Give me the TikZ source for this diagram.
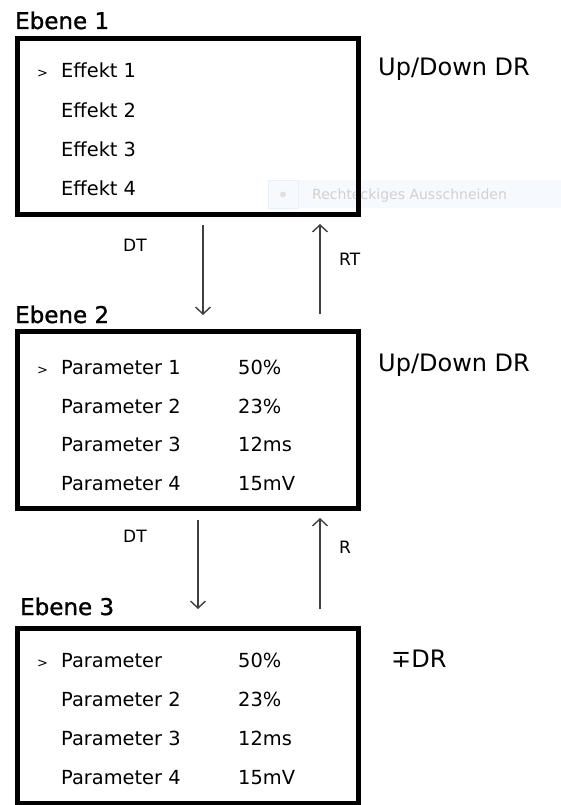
\documentclass[tikz,border=0pt]{standalone}
\usepackage{fontspec}
\setmainfont{DejaVu Sans}
\newfontfamily\titlefont[FakeBold=1.2]{DejaVu Sans}
\usetikzlibrary{arrows.meta}
\definecolor{clipfill}{RGB}{246,249,253}
\definecolor{clipline}{RGB}{232,240,250}
\newcommand{\menubox}[3]{%
\node[menuframe,minimum height=#3] (#1) at (188,#2) {};
}
\newcommand{\menuitem}[4]{%
\node[itemtext] (#1) at (#2,#3) {#4};
}
\newcommand{\cursor}[2]{%
\node[cursortext] (#1) at (37,#2) {>};
}

\begin{document}
\begin{tikzpicture}[x=1pt,y=-1pt]
\useasboundingbox (0,0) rectangle (561,805);

\tikzstyle{menuframe}=[draw,line width=5pt,minimum width=341pt,inner sep=0pt]
\tikzstyle{itemtext}=[anchor=base west,inner sep=0pt,font=\fontsize{19.4}{23}\selectfont]
\tikzstyle{cursortext}=[anchor=base west,inner sep=0pt,font=\fontsize{13}{15}\selectfont]
\tikzstyle{titletext}=[anchor=base west,inner sep=0pt,font=\titlefont\fontsize{23}{27}\selectfont]
\tikzstyle{sidetext}=[anchor=base west,inner sep=0pt,font=\fontsize{24}{28}\selectfont]
\tikzstyle{keytext}=[anchor=base west,inner sep=0pt,font=\fontsize{17}{20}\selectfont]
\tikzstyle{flow}=[draw=black!75,line width=1.4pt,-{Straight Barb[length=7pt,width=15pt,line width=1.4pt]}]

% overlay (screenshot)
\fill[clipfill] (268,180) rectangle (561,208);
\draw[clipline] (268,180) rectangle (298,208);
\fill[black!12] (283,194.5) circle (3);
\node[anchor=base west,inner sep=0pt,text=black!18,font=\fontsize{14}{16}\selectfont] (clip) at (312,200) {Rechteckiges Ausschneiden};

\begin{scope}[shift={(0,38.5)}]
% ebene 1
\node[titletext] (t1) at (15,-9.5) {Ebene 1};
\menubox{box1}{88}{176}

\cursor{c1}{39.5}
\menuitem{e11}{61}{39.5}{Effekt 1}
\menuitem{e12}{61}{79}{Effekt 2}
\menuitem{e13}{61}{118}{Effekt 3}
\menuitem{e14}{61}{157}{Effekt 4}

\node[sidetext] (s1) at (378,37.5) {Up/Down DR};
\end{scope}

\begin{scope}[shift={(0,331.5)}]
% ebene 2
\node[titletext] (t2) at (15,-8.5) {Ebene 2};
\menubox{box2}{88.5}{177}

\cursor{c2}{42.5}
\menuitem{p21}{61}{42.5}{Parameter 1}
\menuitem{p22}{61}{81.5}{Parameter 2}
\menuitem{p23}{61}{119.5}{Parameter 3}
\menuitem{p24}{61}{158.5}{Parameter 4}

\menuitem{v21}{238}{42.5}{50\%}
\menuitem{v22}{238}{81.5}{23\%}
\menuitem{v23}{238}{119.5}{12ms}
\menuitem{v24}{238}{158.5}{15mV}

\node[sidetext] (s2) at (378,39.5) {Up/Down DR};
\end{scope}

\begin{scope}[shift={(0,628.5)}]
% ebene 3
\node[titletext] (t3) at (20,-13.5) {Ebene 3};
\menubox{box3}{87.5}{175}

\cursor{c3}{38.5}
\menuitem{p31}{61}{38.5}{Parameter}
\menuitem{p32}{61}{77.5}{Parameter 2}
\menuitem{p33}{61}{116.5}{Parameter 3}
\menuitem{p34}{61}{155.5}{Parameter 4}

\menuitem{v31}{238}{38.5}{50\%}
\menuitem{v32}{238}{77.5}{23\%}
\menuitem{v33}{238}{116.5}{12ms}
\menuitem{v34}{238}{155.5}{15mV}

\node[sidetext] (s3) at (391,38.5) {∓DR};
\end{scope}

% arrows 1 <-> 2
\coordinate (a1) at (203,225);
\coordinate (b1) at (203,315);
\coordinate (a2) at (320,314);
\coordinate (b2) at (320,224);
\draw[flow] (a1) -- (b1);
\draw[flow] (a2) -- (b2);
\node[keytext] (k1) at (123,251) {DT};
\node[keytext] (k2) at (339,265) {RT};

% arrows 2 <-> 3
\coordinate (a3) at (198,520);
\coordinate (b3) at (198,609);
\coordinate (a4) at (320,609);
\coordinate (b4) at (320,518);
\draw[flow] (a3) -- (b3);
\draw[flow] (a4) -- (b4);
\node[keytext] (k3) at (123,542) {DT};
\node[keytext] (k4) at (339,553) {R};

\end{tikzpicture}
\end{document}
